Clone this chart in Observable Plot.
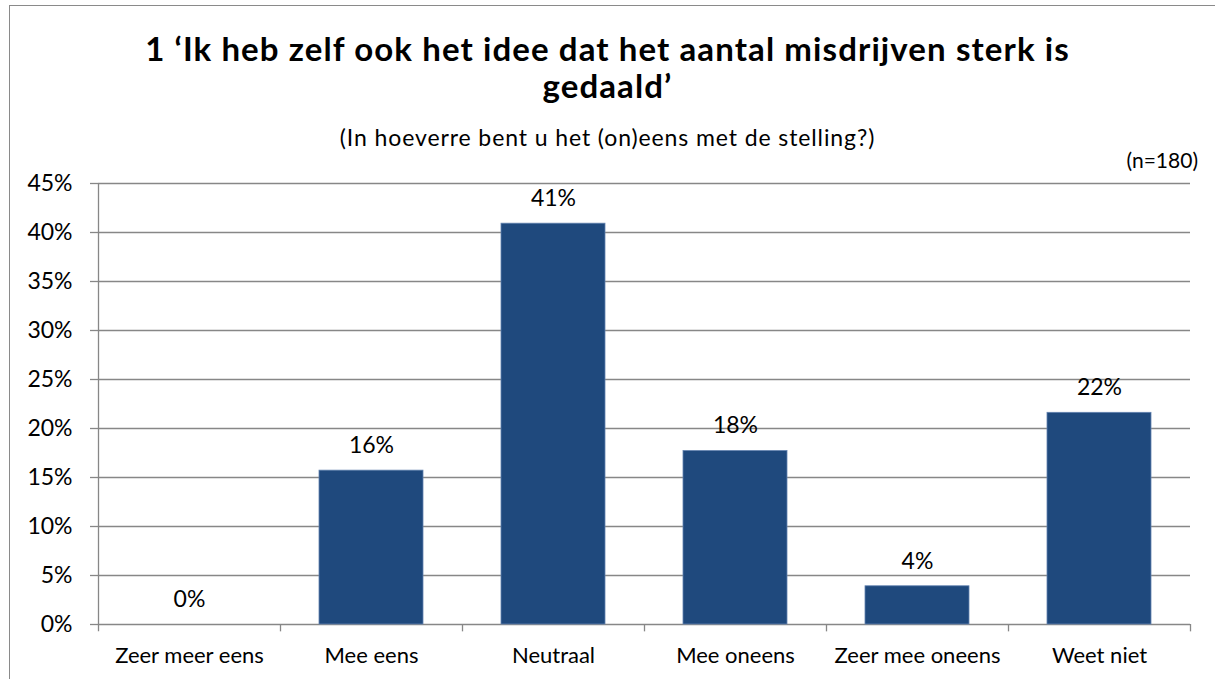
<!DOCTYPE html>
<html><head><meta charset="utf-8">
<script src="https://cdn.jsdelivr.net/npm/d3@7"></script>
<script src="https://cdn.jsdelivr.net/npm/@observablehq/plot@0.6"></script>
<style>
html,body{margin:0;overflow:hidden}
body{width:1215px;height:679px;background:#fff;font-family:Lato,sans-serif;position:relative;color:#000}
#frame{position:absolute;left:9px;top:5px;width:1240px;height:720px;border:1.5px solid #8a8a8a;box-sizing:border-box}
#header{position:relative;height:165px}
.t{position:absolute;left:0;width:1215px;text-align:center;font-weight:bold;font-size:33px;line-height:37px;letter-spacing:1.1px}
#sub{position:absolute;left:0;width:1215px;text-align:center;font-size:23px;line-height:24px;top:125px;letter-spacing:0.9px}
#n{position:absolute;right:17px;font-size:21px;line-height:24px;top:148px}
#chart{position:relative}
</style></head><body>
<div id="frame"></div>
<div id="header">
  <div class="t" style="top:30px">1 ‘Ik heb zelf ook het idee dat het aantal misdrijven sterk is</div>
  <div class="t" style="top:67px">gedaald’</div>
  <div id="sub">(In hoeverre bent u het (on)eens met de stelling?)</div>
  <div id="n">(n=180)</div>
</div>
<div id="chart"></div>
<script>
const categories = ["Zeer meer eens", "Mee eens", "Neutraal", "Mee oneens", "Zeer mee oneens", "Weet niet"];
const values = [0, 0.157, 0.409, 0.177, 0.039, 0.216];
const valueLabels = ["0%", "16%", "41%", "18%", "4%", "22%"];
const yTicks = [0, 0.05, 0.10, 0.15, 0.20, 0.25, 0.30, 0.35, 0.40, 0.45];

const data = categories.map((c, i) => ({category: c, value: values[i], label: valueLabels[i]}));
const W = 1215, H = 514, mL = 98, mR = 25, mT = 18, mB = 55;
const band = (W - mL - mR) / categories.length;
const grid = "#878787";

const plot = Plot.plot({
  width: W, height: H,
  marginLeft: mL, marginRight: mR, marginTop: mT, marginBottom: mB,
  style: {fontFamily: "Lato, sans-serif", fontSize: "20px", color: "#000", background: "transparent", overflow: "visible"},
  x: {domain: categories, padding: 0, label: null},
  y: {domain: [0, 0.45], label: null},
  marks: [
    Plot.ruleY(yTicks, {stroke: grid, strokeWidth: 1.3}),
    Plot.barY(data, {x: "category", y: "value", fill: "#1F497D",
      stroke: d => d.value > 0 ? "#6383b0" : "none", strokeWidth: 0.8,
      insetLeft: 39, insetRight: 39}),
    Plot.ruleX([categories[0]], {dx: -band / 2, y1: -0.0075, y2: 0.45, stroke: grid, strokeWidth: 1.3}),
    Plot.ruleX(categories, {dx: band / 2, y1: -0.0075, y2: 0, stroke: grid, strokeWidth: 1.3}),
    Plot.axisY({ticks: yTicks, tickFormat: d3.format(".0%"), tickSize: 8, tickPadding: 18,
      stroke: grid, strokeWidth: 1.3, fill: "#000", fontSize: 23, label: null}),
    Plot.axisX({tickSize: 0, tickPadding: 23, fontSize: 22, fill: "#000", label: null}),
    Plot.text(data, {x: "category", y: "value", text: "label", dy: -25, fontSize: 23, fill: "#000"})
  ]
});
document.getElementById("chart").appendChild(plot);
</script>
</body></html>
